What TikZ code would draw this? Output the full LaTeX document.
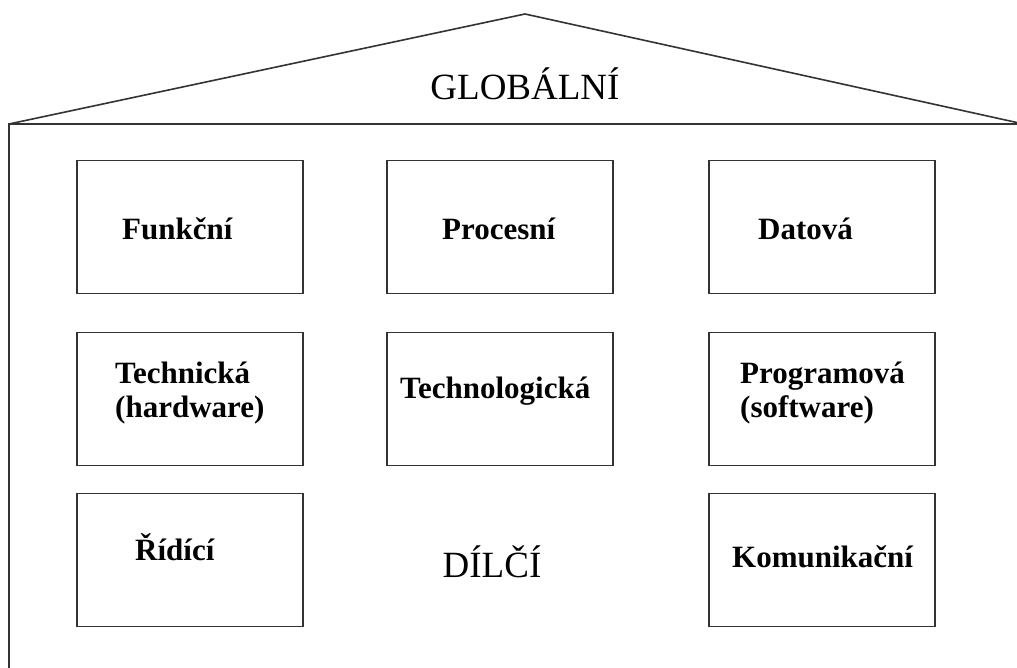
\documentclass[tikz,border=0pt]{standalone}
\usepackage{fontspec}
\setmainfont{Liberation Serif}
\tikzset{
  wall/.style={draw=black!80,line width=1.6pt},
  dilbox/.style={draw=black!80,line width=1.6pt,rectangle,inner sep=0pt,
    minimum width=226pt,minimum height=133pt},
  lbl/.style={font=\fontsize{31}{34}\selectfont\bfseries,inner sep=0pt,
    anchor=base west,align=left},
  big/.style={font=\fontsize{37}{40}\selectfont,inner sep=0pt,anchor=base}
}
\begin{document}
\begin{tikzpicture}[x=1pt,y=-1pt]
		\useasboundingbox (0,0) rectangle (1017,668);

		% Dum: strecha a stena
		\coordinate (leve) at (9,124);
		\coordinate (stit) at (525,14);
		\coordinate (prave) at (1019,123);
		\draw[wall] (leve) -- (stit) -- (prave);
		\draw[wall] (1030,124) -- (leve) -- (9,680);
		\node[big] (glob) at (525,100) {GLOBÁLNÍ};

		% Prvni rada
		\node[dilbox] (funk) at (190,227) {};
		\node[dilbox] (proc) at (500,227) {};
		\node[dilbox] (dat) at (822,227) {};
		\node[lbl] (tfunk) at (122,240) {Funkční};
		\node[lbl] (tproc) at (442,240) {Procesní};
		\node[lbl] (tdat) at (758,240) {Datová};

		% Druha rada
		\node[dilbox] (tech) at (190,399) {};
		\node[dilbox] (tlg) at (500,399) {};
		\node[dilbox] (prog) at (822,399) {};
		\node[lbl] (ttech) at (115,417) {Technická\\(hardware)};
		\node[lbl] (ttlg) at (400,398) {Technologická};
		\node[lbl] (tprog) at (740,417) {Programová\\(software)};

		% Treti rada
		\node[dilbox] (rid) at (190,560) {};
		\node[dilbox] (kom) at (822,560) {};
		\node[lbl] (trid) at (135,560) {Řídící};
		\node[lbl] (tkom) at (732,567) {Komunikační};
		\node[big] (dil) at (492,577) {DÍLČÍ};
	\end{tikzpicture}
\end{document}
